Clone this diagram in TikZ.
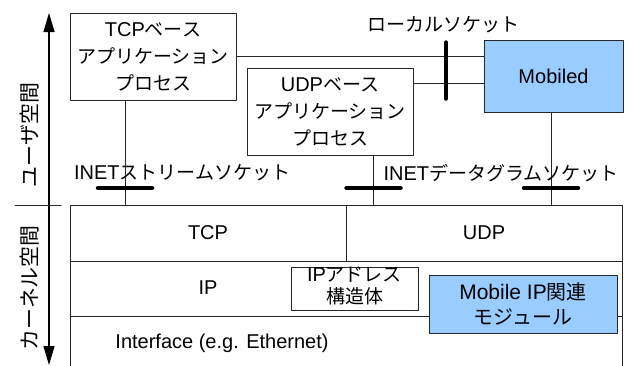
\documentclass[tikz,border=0pt]{standalone}
\usepackage{fontspec}
\setmainfont{Liberation Sans}
\newfontfamily\jpfont[Scale=0.95]{Noto Sans CJK JP}
\newcommand{\jp}[1]{{\jpfont #1}}
\usetikzlibrary{calc}
\usetikzlibrary{arrows.meta}
\definecolor{modblue}{RGB}{153,204,255}

\begin{document}
\begin{tikzpicture}[
  x=1pt,y=-1pt,
  line cap=round,line join=round,
  >={Triangle[length=19pt,width=11pt]},
  font=\fontsize{20}{27}\selectfont
]
  \tikzset{
    box/.style={draw=black!85, line width=1pt, inner sep=0pt, align=center},
    mod/.style={box, fill=modblue},
    sock/.style={line width=4.5pt, line cap=round},
    link/.style={line width=1pt, draw=black!85},
    side/.style={rotate=90, font=\fontsize{22}{22}\selectfont}
  }

  \clip (0,0) rectangle (631,365);

  % User / kernel axis
  \coordinate (top) at (49,13);
  \coordinate (bot) at (49,365);
  \draw[<->, line width=1.3pt] (top) -- (bot);
  \draw[link] (15,205) -- (61,205);
  \node[side] (userlbl) at (30,135) {\jp{ユーザ空間}};
  \node[side] (kernlbl) at (30,288) {\jp{カーネル空間}};

  % User-space processes
  \node[box, minimum width=166, minimum height=87] (tcpapp) at (153,56.5)
    {TCP\jp{ベース}\\\jp{アプリケーション}\\\jp{プロセス}};
  \node[box, minimum width=166, minimum height=87] (udpapp) at (330,111.5)
    {UDP\jp{ベース}\\\jp{アプリケーション}\\\jp{プロセス}};
  \node[mod, minimum width=139, minimum height=72] (mobiled) at (553.5,76) {Mobiled};

  % Kernel protocol stack
  \node[box, minimum width=276, minimum height=56] (tcp) at (208,233) {TCP};
  \node[box, minimum width=276, minimum height=56] (udp) at (484,233) {UDP};
  \node[box, minimum width=552, minimum height=55] (ip) at (346,288.5) {};
  \node (iplbl) at (208,288) {IP};
  \node[box, minimum width=552, minimum height=80] (iface) at (346,356) {};
  \node (ifacelbl) at (222,343) {Interface (e.g. Ethernet)};

  \node[box, fill=white, minimum width=127, minimum height=43] (ipaddr) at (354.5,288.5) {};
  \node[align=center, font=\fontsize{20}{22}\selectfont] (ipaddrlbl) at (354.5,286)
    {IP\jp{アドレス}\\\jp{構造体}};
  \node[mod, minimum width=188, minimum height=58, font=\fontsize{21}{25}\selectfont] (mipmod) at (523,304)
    {Mobile IP\jp{関連}\\\jp{モジュール}};

  % Sockets
  \coordinate (s1) at (125,188);
  \coordinate (s2) at (373.5,188);
  \coordinate (s3) at (551,188);
  \coordinate (s4) at (446,70.5);
  \coordinate (u1) at ($(udpapp.north east)+(0,16)$);

  \draw[link] (tcpapp.south -| s1) -- (tcp.north -| s1);
  \draw[link] (udpapp.south -| s2) -- (udp.north -| s2);
  \draw[link] (mobiled.south -| s3) -- (udp.north -| s3);
  \draw[link] (tcpapp.east) -- (tcpapp.east -| mobiled.west);
  \draw[link] (u1) -- (u1 -| mobiled.west);

  \draw[sock] ($(s1)+(-27,0)$) -- ($(s1)+(27,0)$);
  \draw[sock] ($(s2)+(-27,0)$) -- ($(s2)+(27,0)$);
  \draw[sock] ($(s3)+(-27,0)$) -- ($(s3)+(27,0)$);
  \draw[sock] ($(s4)+(0,-28)$) -- ($(s4)+(0,28)$);

  \node (streamlbl) at (182,173) {INET\jp{ストリームソケット}};
  \node (dgramlbl) at (501,173) {INET\jp{データグラムソケット}};
  \node (locallbl) at (443,25) {\jp{ローカルソケット}};
\end{tikzpicture}
\end{document}
